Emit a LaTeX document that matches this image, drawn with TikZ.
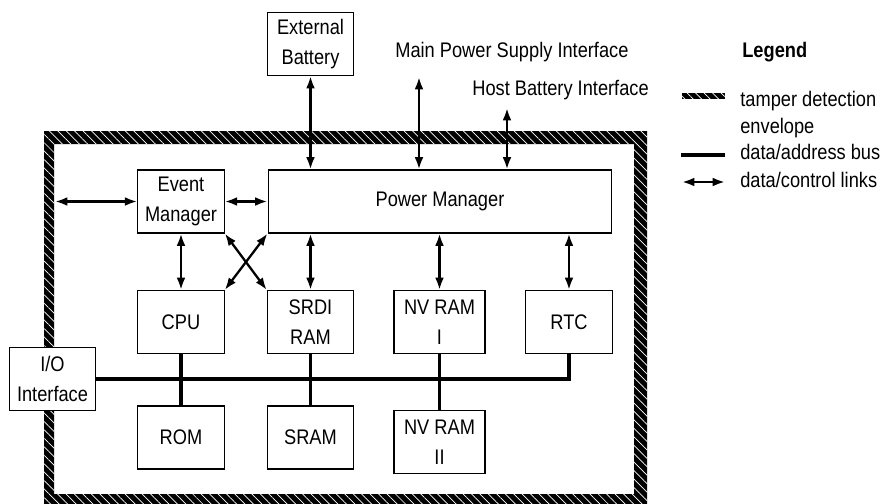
\documentclass[tikz,border=0pt]{standalone}
\usepackage{fontspec}
\setmainfont{Liberation Sans}[FakeStretch=0.865]
\usetikzlibrary{arrows.meta,patterns.meta}

\begin{document}
\begin{tikzpicture}[x=0.02cm,y=-0.02cm,
        font=\fontsize{12}{17}\selectfont,
        unit/.style={draw, line width=.6pt, fill=white, minimum width=1.73cm, minimum height=1.26cm, align=center, inner sep=0pt},
        label/.style={anchor=base west, inner sep=0pt},
        link/.style={line width=1.3pt, {Latex[length=7pt,width=5pt]}-{Latex[length=7pt,width=5pt]}},
        bus/.style={line width=2.2pt},
        envhatch/.style={pattern={Lines[angle=-45,distance=3.4pt,line width=.4pt]}, pattern color=white}]
        \useasboundingbox (0,0) rectangle (880,504);
        %tamper detection envelope
        \fill[black, even odd rule] (44,131) rectangle (647,504) (54,144) rectangle (634,494);
        \fill[envhatch, even odd rule] (44,131) rectangle (647,504) (54,144) rectangle (634,494);
        %units
        \node[unit] (extbat) at (310.5,44) {External\\Battery};
        \node[unit] (em) at (181,201.5) {Event\\Manager};
        \node[unit, minimum width=6.88cm] (pm) at (440,201.5) {Power Manager};
        \node[unit] (cpu) at (181,322) {CPU};
        \node[unit] (srdi) at (310.5,322) {SRDI\\RAM};
        \node[unit, minimum width=1.82cm] (nvone) at (439.5,322) {NV RAM\\I};
        \node[unit] (rtc) at (569,322) {RTC};
        \node[unit] (io) at (52.5,379) {I/O\\Interface};
        \node[unit] (rom) at (181,437.5) {ROM};
        \node[unit] (sram) at (310.5,437.5) {SRAM};
        \node[unit, minimum width=1.82cm] (nvtwo) at (439.5,442) {NV RAM\\II};
        %interfaces
        \node[label] (mainps) at (395,57) {Main Power Supply Interface};
        \node[label] (hostbat) at (472,95) {Host Battery Interface};
        \coordinate (mainend) at (419,77);
        \coordinate (hostend) at (507,108);
        \coordinate (envport) at (55,201.5);
        %data/control links
        \draw[link] (extbat.south) -- (extbat.south |- pm.north);
        \draw[link] (mainend) -- (mainend |- pm.north);
        \draw[link] (hostend) -- (hostend |- pm.north);
        \draw[link] (envport) -- (em.west);
        \draw[link] (em.east) -- (pm.west);
        \draw[link] (em.south) -- (cpu.north);
        \draw[link] (em.south east) -- (srdi.north west);
        \draw[link] (pm.south west) -- (cpu.north east);
        \draw[link] (srdi.north) -- (srdi.north |- pm.south);
        \draw[link] (nvone.north) -- (nvone.north |- pm.south);
        \draw[link] (rtc.north) -- (rtc.north |- pm.south);
        %data/address bus
        \draw[bus] (io.east) -- (rtc.south |- io.east) -- (rtc.south);
        \draw[bus] (cpu.south) -- (rom.north);
        \draw[bus] (srdi.south) -- (sram.north);
        \draw[bus] (nvone.south) -- (nvtwo.north);
        %legend
        \node[label, font=\fontsize{12}{17}\selectfont\bfseries] (legend) at (742,57) {Legend};
        \fill[black] (682,93) rectangle (725,99);
        \fill[envhatch] (682,93) rectangle (725,99);
        \node[label] (ltamper) at (740,106) {tamper detection};
        \node[label] (lenv) at (740,133) {envelope};
        \node[label] (lbus) at (740,159) {data/address bus};
        \node[label] (llink) at (740,187) {data/control links};
        \coordinate (busa) at (681,155);
        \coordinate (busb) at (725,155);
        \coordinate (linka) at (682,182);
        \coordinate (linkb) at (725,182);
        \draw[bus] (busa) -- (busb);
        \draw[link] (linka) -- (linkb);
    \end{tikzpicture}
\end{document}
